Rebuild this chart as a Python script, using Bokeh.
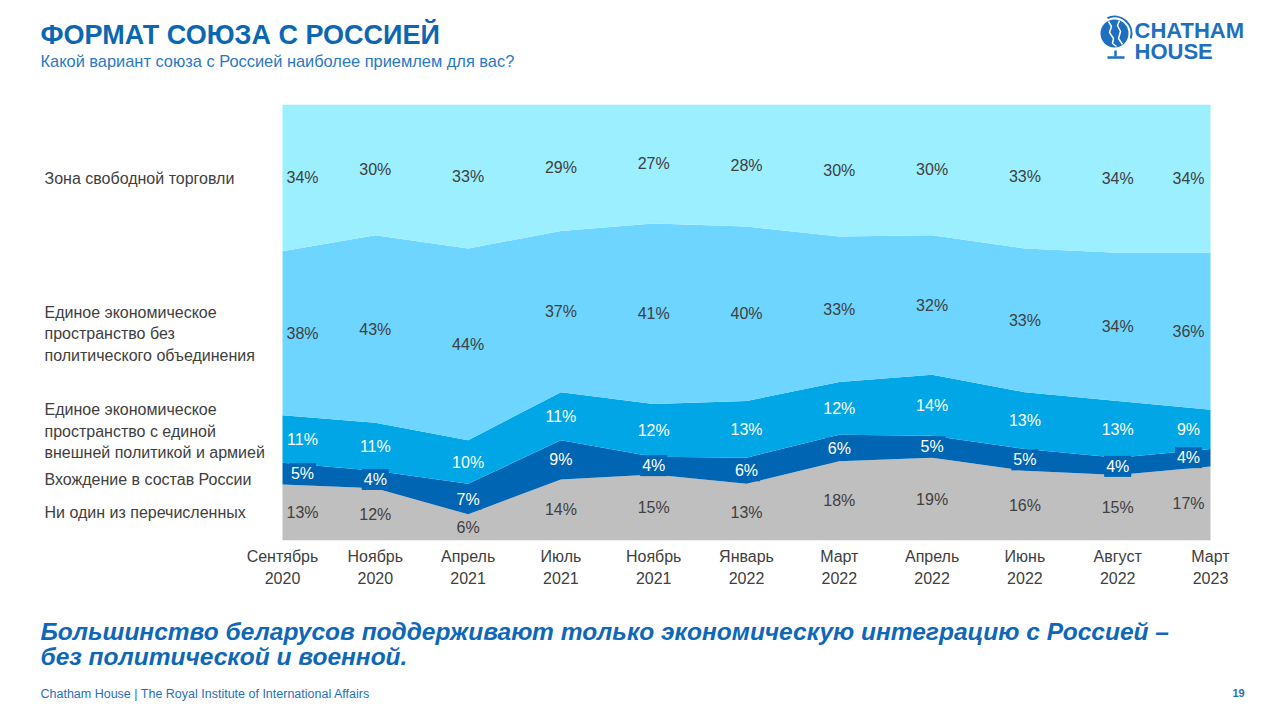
from bokeh.plotting import figure
from bokeh.models import FixedTicker, ColumnDataSource, Range1d
from bokeh.layouts import column
from bokeh.embed import file_html
from bokeh.resources import INLINE
from bokeh.core.properties import value
import numpy as np

# ---- data ----
periods = ["Сентябрь\n2020", "Ноябрь\n2020", "Апрель\n2021", "Июль\n2021", "Ноябрь\n2021",
           "Январь\n2022", "Март\n2022", "Апрель\n2022", "Июнь\n2022", "Август\n2022", "Март\n2023"]
none_of = [13, 12, 6, 14, 15, 13, 18, 19, 16, 15, 17]
join_russia = [5, 4, 7, 9, 4, 6, 6, 5, 5, 4, 4]
ees_army = [11, 11, 10, 11, 12, 13, 12, 14, 13, 13, 9]
ees_nopol = [38, 43, 44, 37, 41, 40, 33, 32, 33, 34, 36]
free_trade = [34, 30, 33, 29, 27, 28, 30, 30, 33, 34, 34]
series_names = [
    ["Ни один из перечисленных"],
    ["Вхождение в состав России"],
    ["Единое экономическое", "пространство с единой", "внешней политикой и армией"],
    ["Единое экономическое", "пространство без", "политического объединения"],
    ["Зона свободной торговли"],
]

FONT = "Liberation Sans"
colors = ["#BFBFBF", "#0066B3", "#00A6E6", "#6DD5FF", "#9BEFFF"]
text_colors = ["#404040", "#FFFFFF", "#FFFFFF", "#404040", "#404040"]
BLUE = "#0B67B2"
LOGO = "#1F6FC0"

W, H = 1280, 720
PL, PR, PT, PB = 282, 1210, 104, 540   # plot frame in page pixels
AXIS_BOTTOM = 600

series = [none_of, join_russia, ees_army, ees_nopol, free_trade]
arr = np.array(series, dtype=float)
shares = arr / arr.sum(axis=0) * 100.0
cum = np.cumsum(shares, axis=0)
x = np.arange(len(periods))
n = len(periods) - 1
ux = (PR - PL) / n          # px per x unit
uy = (PB - PT) / 100.0      # px per percent

def fx(X):  # page px -> x data
    return (X - PL) / ux

def fy(Y):  # page px -> y data
    return (PB - Y) / uy

def blank(fig):
    fig.outline_line_color = None
    fig.grid.visible = False
    fig.axis.visible = False
    fig.background_fill_color = "white"
    fig.border_fill_color = "white"
    return fig

# ---------- top strip ----------
top = blank(figure(width=W, height=PT, output_backend="svg", toolbar_location=None,
                   x_range=Range1d(0, W), y_range=Range1d(PT, 0), title=None,
                   min_border=0, x_axis_location=None, y_axis_location=None))

def ttext(fig, X, Y, txt, size, color, style="normal", align="left"):
    fig.text(x=[X], y=[Y], text=[txt], text_font=value(FONT), text_font_size=size,
             text_color=color, text_font_style=style, text_align=align, text_baseline="middle")

ttext(top, 40, 34, "ФОРМАТ СОЮЗА С РОССИЕЙ", "27px", BLUE, "bold")
ttext(top, 40, 60, "Какой вариант союза с Россией наиболее приемлем для вас?", "16.4px", "#2A78C6")
ttext(top, 1134, 30, "CHATHAM", "22px", LOGO, "bold")
ttext(top, 1134, 51, "HOUSE", "22px", LOGO, "bold")
# globe logo
top.scatter(x=[1114], y=[33], size=28, marker="circle", fill_color=LOGO, line_color=None)
top.line(x=[1108, 1111, 1109, 1113, 1112, 1116], y=[21, 26, 32, 38, 43, 46], line_color="white", line_width=1.5)
top.line(x=[1119, 1117, 1120, 1118, 1122], y=[20, 25, 31, 38, 44], line_color="white", line_width=1.5)
top.arc(x=[1114], y=[33], radius=17, start_angle=-0.3, end_angle=2.0, direction="anticlock",
        line_color=LOGO, line_width=2)
top.line(x=[1115, 1115], y=[50, 56], line_color=LOGO, line_width=2.5)
top.line(x=[1107, 1124], y=[57, 57], line_color=LOGO, line_width=2.5)

# ---------- main chart ----------
p = figure(width=W, height=AXIS_BOTTOM - PT, output_backend="svg", toolbar_location=None,
           x_range=Range1d(fx(0), fx(W)), y_range=Range1d(0, 100),
           y_axis_location=None, title=None,
           min_border_left=0, min_border_right=0, min_border_top=0,
           min_border_bottom=AXIS_BOTTOM - PB)
p.outline_line_color = None
p.grid.visible = False
p.background_fill_color = "white"
p.border_fill_color = "white"

for k in range(len(series)):
    lower = cum[k - 1] if k > 0 else np.zeros(len(x))
    p.varea(x=x, y1=lower, y2=cum[k], fill_color=colors[k])

offsets = [0.0] * len(x)
offsets[0] = 20
offsets[-1] = -22
for k in range(len(series)):
    lower = cum[k - 1] if k > 0 else np.zeros(len(x))
    mid = (lower + cum[k]) / 2
    src = ColumnDataSource(dict(x=x, y=mid, t=[f"{v}%" for v in series[k]], xo=offsets))
    kw = {}
    if k == 1:
        kw = dict(background_fill_color=colors[1], padding=2)
    p.text(x="x", y="y", text="t", x_offset="xo", source=src, text_align="center",
           text_baseline="middle", text_font_size="16px", text_color=text_colors[k],
           text_font=value(FONT), **kw)

# legend text on the left
legend_y = [[512], [479], [409, 431, 452], [312, 333, 355], [178]]
for names, ys in zip(series_names, legend_y):
    for nm, yy in zip(names, ys):
        p.text(x=[fx(44)], y=[fy(yy)], text=[nm], text_font=value(FONT), text_font_size="16px",
               text_color="#404040", text_align="left", text_baseline="middle")

ax = p.xaxis[0]
ax.ticker = FixedTicker(ticks=list(range(len(periods))))
ax.major_label_overrides = {i: periods[i] for i in range(len(periods))}
ax.major_tick_line_color = None
ax.minor_tick_line_color = None
ax.axis_line_color = None
ax.major_label_standoff = 1
ax.major_label_text_font_size = "16px"
ax.major_label_text_line_height = 1.35
ax.major_label_text_color = "#404040"
ax.major_label_text_font = FONT

# ---------- bottom strip ----------
bot = blank(figure(width=W, height=H - AXIS_BOTTOM, output_backend="svg", toolbar_location=None,
                   x_range=Range1d(0, W), y_range=Range1d(H, AXIS_BOTTOM), title=None,
                   min_border=0, x_axis_location=None, y_axis_location=None))
ttext(bot, 40, 631, "Большинство беларусов поддерживают только экономическую интеграцию с Россией –",
      "24.5px", "#0F67B8", "bold italic")
ttext(bot, 40, 656, "без политической и военной.", "24.5px", "#0F67B8", "bold italic")
ttext(bot, 40, 693, "Chatham House  |  The Royal Institute of International Affairs", "12.5px", LOGO)
ttext(bot, 1238, 692, "19", "11px", LOGO, "bold", "center")

layout = column(top, p, bot, spacing=0)
open("out.html", "w").write(file_html(layout, INLINE))
